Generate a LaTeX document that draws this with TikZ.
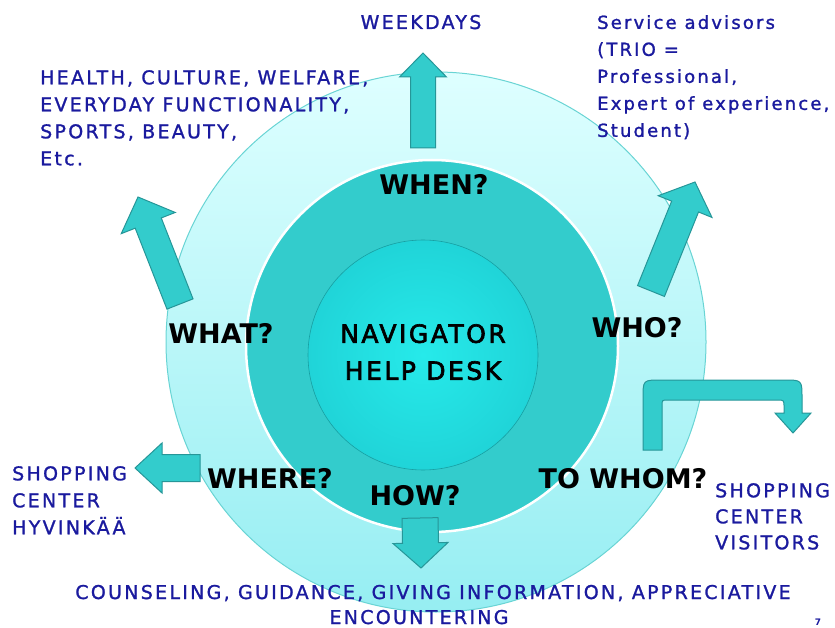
\documentclass[tikz,border=0pt]{standalone}
\usepackage{fontspec}
\setmainfont{DejaVu Sans}
\newfontfamily\handfont[LetterSpace=12,FakeBold=1.3]{DejaVu Sans}
\newfontfamily\titlefont[LetterSpace=10,FakeBold=2.6]{DejaVu Sans}
\newfontfamily\labelfont{DejaVu Sans}
\usetikzlibrary{calc}

\definecolor{ringpale}{RGB}{222,255,255}
\definecolor{ringdeep}{RGB}{150,238,242}
\definecolor{ringedge}{RGB}{105,212,212}
\definecolor{midteal}{RGB}{51,204,204}
\definecolor{corelight}{RGB}{38,234,234}
\definecolor{coredark}{RGB}{32,212,216}
\definecolor{arrowfill}{RGB}{51,204,204}
\definecolor{arrowline}{RGB}{38,150,152}
\definecolor{inkblue}{RGB}{26,26,158}

\tikzset{
  bluetext/.style={text=inkblue, font=\handfont\fontsize{19}{27}\selectfont,
    align=left, inner sep=0pt},
  qlabel/.style={font=\labelfont\bfseries\fontsize{27}{30}\selectfont,
    inner sep=0pt, anchor=base},
  barrow/.style={fill=arrowfill, draw=arrowline, line width=1pt, line join=miter},
}

% straight block arrow from (#1-b) to (#1-t):
% #2 half shaft width, #3 half head width, #4 head length
\newcommand\blockarrow[4]{%
  \coordinate (#1-h) at ($(#1-t)!#4!(#1-b)$);
  \path[barrow]
    ($(#1-b)!#2!90:(#1-t)$) --
    ($(#1-h)!#2!90:(#1-t)$) --
    ($(#1-h)!#3!90:(#1-t)$) --
    (#1-t) --
    ($(#1-h)!#3!-90:(#1-t)$) --
    ($(#1-h)!#2!-90:(#1-t)$) --
    ($(#1-b)!#2!-90:(#1-t)$) -- cycle;
}

\begin{document}
\begin{tikzpicture}[x=1pt, y=-1pt]
\useasboundingbox (0,0) rectangle (835,628);

% three concentric discs
\node[circle, minimum size=540pt, inner sep=0pt, top color=ringpale,
  bottom color=ringdeep, draw=ringedge, line width=1pt] (outer) at (436,342) {};
\node[circle, minimum size=372pt, inner sep=0pt, fill=midteal, draw=white,
  line width=2.5pt] (middle) at (432,346) {};
\node[circle, minimum size=230pt, inner sep=0pt, inner color=corelight,
  outer color=coredark, draw=coredark!75!black, line width=0.6pt] (core) at (423,355) {};

% block arrows
\coordinate (up-b) at (423,148);   \coordinate (up-t) at (423,53);
\coordinate (nw-b) at (180,304);   \coordinate (nw-t) at (138,197);
\coordinate (ne-b) at (651,291);   \coordinate (ne-t) at (695,182);
\coordinate (w-b)  at (200,468);   \coordinate (w-t)  at (135,468);
\coordinate (dn-b) at (420,518);   \coordinate (dn-t) at (421,568);
\blockarrow{up}{12.5pt}{23.5pt}{24pt}
\blockarrow{nw}{14pt}{29pt}{28pt}
\blockarrow{ne}{14.5pt}{29pt}{26.5pt}
\blockarrow{w}{13.5pt}{25pt}{27pt}
\blockarrow{dn}{18pt}{27.5pt}{25pt}

% bent arrow towards the visitors
\path[barrow] (643,450) -- (643,398) .. controls (643,380) .. (661,380)
  -- (784,380) .. controls (802,380) .. (802,398) -- (802,413) -- (811,413)
  -- (793,433) -- (775,413) -- (784,413) -- (784,407)
  .. controls (784,400) .. (777,400) -- (668,400)
  .. controls (662,400) .. (662,406) -- (662,450) -- cycle;

% centre title
\node[font=\titlefont\fontsize{25}{37}\selectfont, align=center, inner sep=0pt,
  anchor=north] (title) at (423,324) {NAVIGATOR\\HELP DESK};

% questions
\node[qlabel] (when)   at (434,195) {WHEN?};
\node[qlabel] (what)   at (221,343) {WHAT?};
\node[qlabel] (who)    at (637,337) {WHO?};
\node[qlabel] (where)  at (270,488) {WHERE?};
\node[qlabel] (how)    at (415,505) {HOW?};
\node[qlabel] (towhom) at (623,488) {TO WHOM?};

% answers
\node[bluetext, anchor=base] (weekdays) at (421,29) {WEEKDAYS};
\node[bluetext, anchor=north west] (whatans) at (40,70)
  {HEALTH, CULTURE, WELFARE,\\EVERYDAY FUNCTIONALITY,\\SPORTS, BEAUTY,\\Etc.};
\node[bluetext, font=\handfont\fontsize{18}{27}\selectfont, anchor=north west]
  (whoans) at (597,15)
  {Service advisors\\(TRIO =\\Professional,\\Expert of experience,\\Student)};
\node[bluetext, anchor=north west] (whereans) at (12,466)
  {SHOPPING\\CENTER\\HYVINKÄÄ};
\node[bluetext, font=\handfont\fontsize{19}{26}\selectfont, anchor=north west]
  (whomans) at (715,483) {SHOPPING\\CENTER\\VISITORS};
\node[bluetext, anchor=base] (howans) at (433,599)
  {COUNSELING, GUIDANCE, GIVING INFORMATION, APPRECIATIVE};
\node[bluetext, anchor=base] (howans2) at (419,624) {ENCOUNTERING};

\node[text=inkblue, font=\fontsize{9}{9}\selectfont\bfseries, inner sep=0pt,
  anchor=base] (pagenum) at (818,625) {7};
\end{tikzpicture}
\end{document}
